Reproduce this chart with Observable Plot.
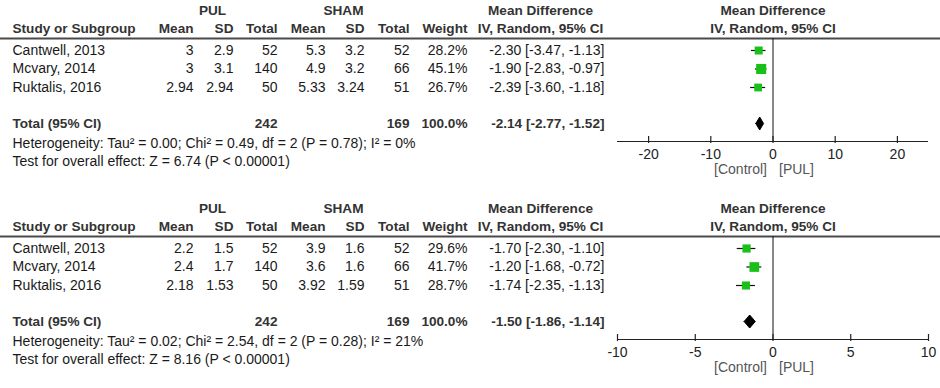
<!DOCTYPE html>
<html>
<head>
<meta charset="utf-8">
<script src="https://cdn.jsdelivr.net/npm/d3@7"></script>
<script src="https://cdn.jsdelivr.net/npm/@observablehq/plot@0.6"></script>
<style>
  html, body { margin: 0; padding: 0; background: #fff; }
  #chart svg { display: block; }
</style>
</head>
<body>
<div id="chart"></div>
<script>
// ---------- DATA ----------
const studies = ["Cantwell, 2013", "Mcvary, 2014", "Ruktalis, 2016"];

// Panel 1
const pulMean1 = [3, 3, 2.94];
const pulSD1 = [2.9, 3.1, 2.94];
const pulN1 = [52, 140, 50];
const shamMean1 = [5.3, 4.9, 5.33];
const shamSD1 = [3.2, 3.2, 3.24];
const shamN1 = [52, 66, 51];
const weight1 = [28.2, 45.1, 26.7];
const md1 = [-2.30, -1.90, -2.39];
const lo1 = [-3.47, -2.83, -3.60];
const hi1 = [-1.13, -0.97, -1.18];
const total1 = {pulN: 242, shamN: 169, weight: 100.0, md: -2.14, lo: -2.77, hi: -1.52};
const het1 = "Heterogeneity: Tau\u00B2 = 0.00; Chi\u00B2 = 0.49, df = 2 (P = 0.78); I\u00B2 = 0%";
const test1 = "Test for overall effect: Z = 6.74 (P < 0.00001)";
const domain1 = [-25, 25];
const ticks1 = [-20, -10, 0, 10, 20];

// Panel 2
const pulMean2 = [2.2, 2.4, 2.18];
const pulSD2 = [1.5, 1.7, 1.53];
const pulN2 = [52, 140, 50];
const shamMean2 = [3.9, 3.6, 3.92];
const shamSD2 = [1.6, 1.6, 1.59];
const shamN2 = [52, 66, 51];
const weight2 = [29.6, 41.7, 28.7];
const md2 = [-1.70, -1.20, -1.74];
const lo2 = [-2.30, -1.68, -2.35];
const hi2 = [-1.10, -0.72, -1.13];
const total2 = {pulN: 242, shamN: 169, weight: 100.0, md: -1.50, lo: -1.86, hi: -1.14};
const het2 = "Heterogeneity: Tau\u00B2 = 0.02; Chi\u00B2 = 2.54, df = 2 (P = 0.28); I\u00B2 = 21%";
const test2 = "Test for overall effect: Z = 8.16 (P < 0.00001)";
const domain2 = [-10, 10];
const ticks2 = [-10, -5, 0, 5, 10];

// ---------- LAYOUT ----------
const W = 940;
const FONT = "'Liberation Sans', Arial, sans-serif";
const FS = 14;
const FSB = 13.6;
const Y = {grp: 10, head: 28, line: 38, rows: [50, 68.5, 87], total: 123, axis: 141, tick: 154, het: 143, test: 161, dir: 169};
const COL = {study: 12, pulMean: 193, pulSD: 233, pulN: 277, shamMean: 325, shamSD: 364, shamN: 409, weight: 467, md: 604, mdHead: 540, pul: 212, sham: 343};
const PLOT_RANGE = [617, 928];
const TXT = "#1a1a1a", HEAD = "#333";

const fmt2 = v => v.toFixed(2);
const ci = (m, l, h) => `${fmt2(m)} [${fmt2(l)}, ${fmt2(h)}]`;

function panel(p) {
  const rows = studies.map((s, i) => ({
    study: s, pulMean: p.pulMean[i], pulSD: p.pulSD[i], pulN: p.pulN[i],
    shamMean: p.shamMean[i], shamSD: p.shamSD[i], shamN: p.shamN[i],
    weight: p.weight[i], md: p.md[i], lo: p.lo[i], hi: p.hi[i], y: Y.rows[i]
  }));
  const t = p.total;
  const col = (key, textFn, anchor = "end", rowsData = rows) =>
    Plot.text(rowsData, {y: "y", text: textFn, frameAnchor: "left", dx: COL[key], textAnchor: anchor, fill: TXT, fontSize: FS});
  const headText = (txt, key, y, anchor) =>
    Plot.text([txt], {y: () => y, text: d => d, frameAnchor: "left", dx: COL[key], textAnchor: anchor, fill: HEAD, fontWeight: "bold", fontSize: FSB});
  const diamond = [
    {x: t.lo, y: Y.total}, {x: t.md, y: Y.total - 6.5},
    {x: t.hi, y: Y.total}, {x: t.md, y: Y.total + 6.5}, {x: t.lo, y: Y.total}
  ];
  return Plot.plot({
    width: W, height: p.height,
    marginTop: 0, marginBottom: 0, marginLeft: 0, marginRight: 0,
    style: {fontFamily: FONT, fontSize: FS + "px", background: "#fff"},
    x: {domain: p.domain, range: PLOT_RANGE, axis: null},
    y: {domain: [0, p.height], range: [0, p.height], axis: null},
    r: {type: "sqrt", domain: [0, 50], range: [0, 6.0]},
    marks: [
      // headers
      headText("PUL", "pul", Y.grp, "middle"),
      headText("SHAM", "sham", Y.grp, "middle"),
      headText("Mean Difference", "mdHead", Y.grp, "middle"),
      headText("Study or Subgroup", "study", Y.head, "start"),
      headText("Mean", "pulMean", Y.head, "end"),
      headText("SD", "pulSD", Y.head, "end"),
      headText("Total", "pulN", Y.head, "end"),
      headText("Mean", "shamMean", Y.head, "end"),
      headText("SD", "shamSD", Y.head, "end"),
      headText("Total", "shamN", Y.head, "end"),
      headText("Weight", "weight", Y.head, "end"),
      headText("IV, Random, 95% CI", "mdHead", Y.head, "middle"),
      Plot.text(["Mean Difference", "IV, Random, 95% CI"], {x: () => 0, y: (d, i) => i === 0 ? Y.grp : Y.head, text: d => d, fill: HEAD, fontWeight: "bold", fontSize: FSB, textAnchor: "middle"}),
      Plot.ruleY([Y.line], {stroke: "#4a4a4a", strokeWidth: 2}),
      // study rows
      col("study", "study", "start"),
      col("pulMean", d => String(d.pulMean)),
      col("pulSD", d => String(d.pulSD)),
      col("pulN", d => String(d.pulN)),
      col("shamMean", d => String(d.shamMean)),
      col("shamSD", d => String(d.shamSD)),
      col("shamN", d => String(d.shamN)),
      col("weight", d => d.weight.toFixed(1) + "%"),
      col("md", d => ci(d.md, d.lo, d.hi)),
      // total row
      headText("Total (95% CI)", "study", Y.total, "start"),
      headText(String(t.pulN), "pulN", Y.total, "end"),
      headText(String(t.shamN), "shamN", Y.total, "end"),
      headText(t.weight.toFixed(1) + "%", "weight", Y.total, "end"),
      headText(ci(t.md, t.lo, t.hi), "md", Y.total, "end"),
      Plot.text([p.het, p.test], {y: (d, i) => i === 0 ? Y.het : Y.test, text: d => d, frameAnchor: "left", dx: COL.study, textAnchor: "start", fill: TXT, fontSize: FS}),
      // forest plot
      Plot.ruleX([0], {y1: Y.line, y2: Y.axis, stroke: "#111", strokeWidth: 1}),
      Plot.ruleY([Y.axis], {x1: p.domain[0], x2: p.domain[1], stroke: "#222", strokeWidth: 1.2}),
      Plot.ruleX(p.ticks, {y1: Y.axis - 5, y2: Y.axis + 2, stroke: "#222", strokeWidth: 1.2}),
      Plot.text(p.ticks, {x: d => d, y: () => Y.tick, text: d => String(d), fill: "#222", fontSize: FS, textAnchor: "middle"}),
      Plot.text(["[Control]"], {x: () => 0, y: () => Y.dir, text: d => d, dx: -6, textAnchor: "end", fill: "#555", fontSize: FS}),
      Plot.text(["[PUL]"], {x: () => 0, y: () => Y.dir, text: d => d, dx: 6, textAnchor: "start", fill: "#555", fontSize: FS}),
      Plot.ruleY(rows, {y: "y", x1: "lo", x2: "hi", stroke: "#111", strokeWidth: 1.2}),
      Plot.dot(rows, {x: "md", y: "y", r: "weight", symbol: "square", fill: "#18c018", stroke: "none"}),
      Plot.line(diamond, {x: "x", y: "y", fill: "#000", stroke: "#000", strokeWidth: 1})
    ]
  });
}

const chart = document.getElementById("chart");
chart.append(panel({
  height: 198, pulMean: pulMean1, pulSD: pulSD1, pulN: pulN1, shamMean: shamMean1, shamSD: shamSD1, shamN: shamN1,
  weight: weight1, md: md1, lo: lo1, hi: hi1, total: total1, het: het1, test: test1, domain: domain1, ticks: ticks1
}));
chart.append(panel({
  height: 190, pulMean: pulMean2, pulSD: pulSD2, pulN: pulN2, shamMean: shamMean2, shamSD: shamSD2, shamN: shamN2,
  weight: weight2, md: md2, lo: lo2, hi: hi2, total: total2, het: het2, test: test2, domain: domain2, ticks: ticks2
}));
</script>
</body>
</html>
